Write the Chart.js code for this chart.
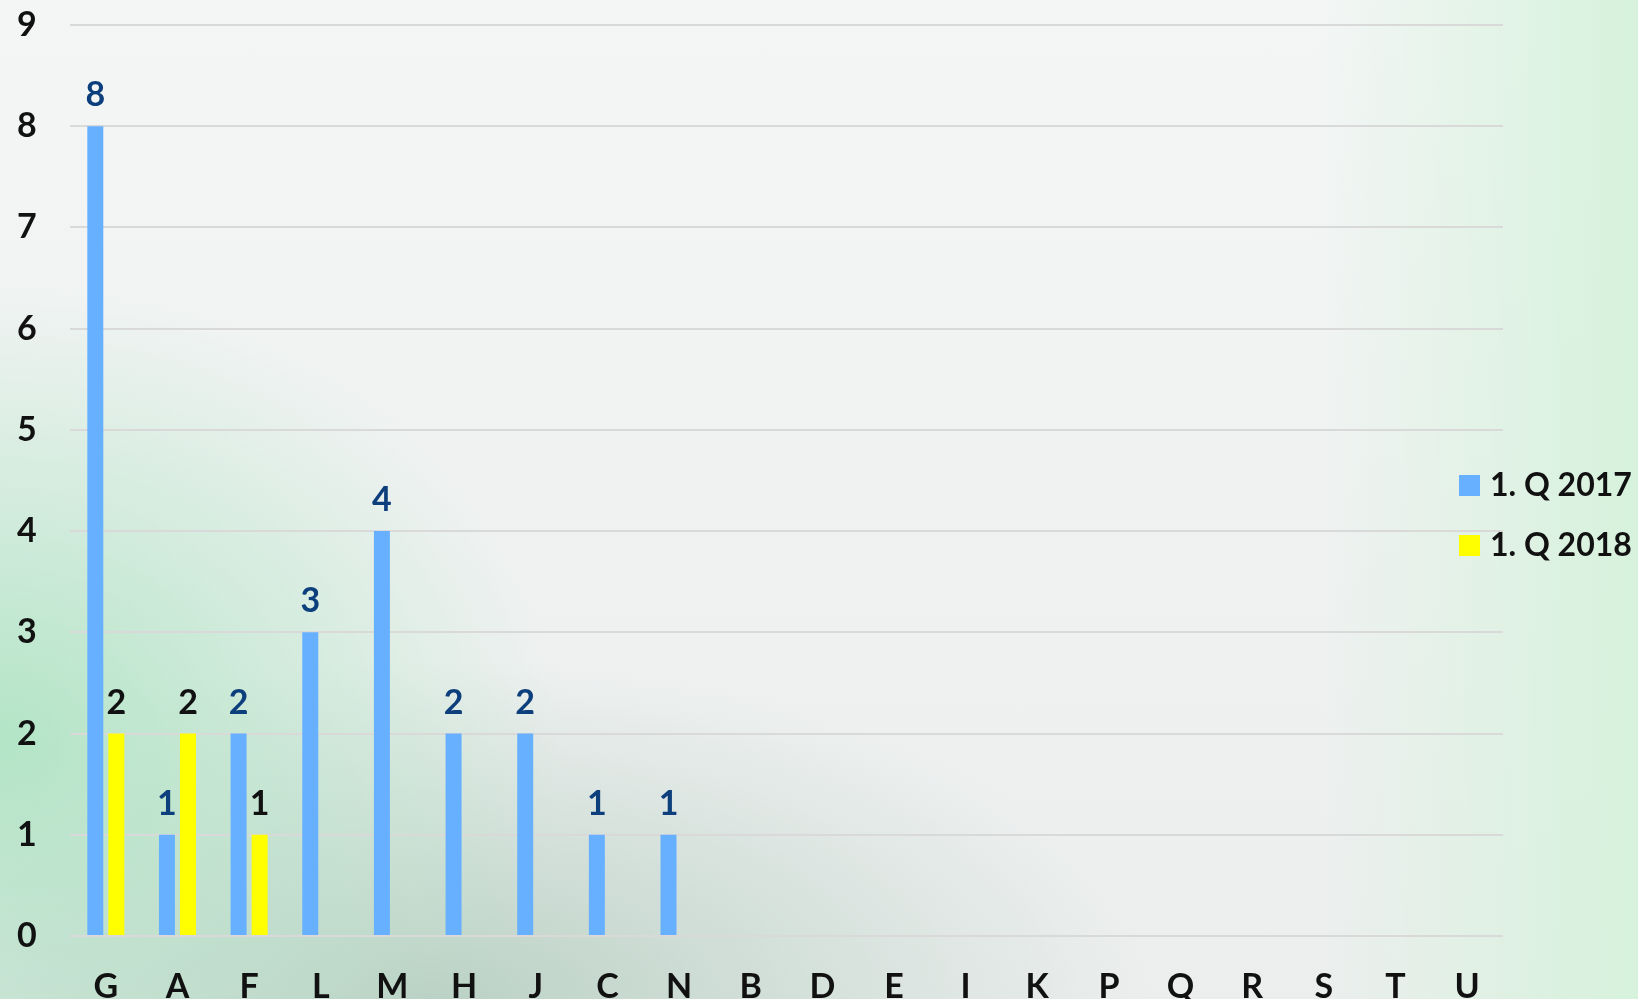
<!DOCTYPE html>
<html>
<head>
<meta charset="utf-8">
<script src="https://cdn.jsdelivr.net/npm/chart.js@4.4.0/dist/chart.umd.min.js"></script>
<style>
  html, body { margin: 0; padding: 0; width: 1638px; height: 999px; overflow: hidden; }
  body {
    background:
      radial-gradient(ellipse 560px 460px at 0px 740px, rgba(176,228,196,0.95), rgba(176,228,196,0) 100%),
      radial-gradient(ellipse 720px 340px at 430px 999px, rgba(184,208,195,0.95), rgba(184,208,195,0) 100%),
      linear-gradient(to right, rgba(220,242,224,0) 80%, rgba(214,242,220,1) 100%),
      linear-gradient(to bottom, #f4f6f6 0%, #eceeee 100%);
  }
  #wrap { position: absolute; left: 0; top: 0; }
</style>
</head>
<body>
<div id="wrap"><canvas id="chart" width="1638" height="999"></canvas></div>
<script>
// categories + values
const categories = ["G","A","F","L","M","H","J","C","N","B","D","E","I","K","P","Q","R","S","T","U"];
const q2017 = [8, 1, 2, 3, 4, 2, 2, 1, 1, 0, 0, 0, 0, 0, 0, 0, 0, 0, 0, 0];
const q2018 = [2, 2, 1, 0, 0, 0, 0, 0, 0, 0, 0, 0, 0, 0, 0, 0, 0, 0, 0, 0];
const yTicks = [0, 1, 2, 3, 4, 5, 6, 7, 8, 9];

const FONT = "Lato, 'Open Sans', sans-serif";
const FSIZE = 34;

// value labels above bars
const valueLabels = {
  id: "valueLabels",
  afterDatasetsDraw(chart) {
    const ctx = chart.ctx;
    ctx.save();
    ctx.font = "bold " + FSIZE + "px " + FONT;
    ctx.textAlign = "center";
    ctx.textBaseline = "alphabetic";
    chart.data.datasets.forEach((ds, i) => {
      const meta = chart.getDatasetMeta(i);
      ctx.fillStyle = ds.labelColor;
      meta.data.forEach((bar, j) => {
        const v = ds.data[j];
        if (!v) return;
        ctx.fillText(v, bar.x, bar.y - 20);
      });
    });
    ctx.restore();
  }
};

// legend on the right, overlapping the plot edge like the original
const sideLegend = {
  id: "sideLegend",
  afterDraw(chart) {
    const ctx = chart.ctx;
    const rows = [485, 545];
    ctx.save();
    ctx.font = "bold 32px " + FONT;
    ctx.textBaseline = "middle";
    ctx.textAlign = "left";
    chart.data.datasets.forEach((ds, i) => {
      const y = rows[i];
      ctx.fillStyle = ds.backgroundColor;
      ctx.fillRect(1459, y - 10, 21, 21);
      ctx.fillStyle = "#111111";
      ctx.fillText(ds.label, 1490, y + 1);
    });
    ctx.restore();
  }
};

const ctx = document.getElementById("chart").getContext("2d");

const chart = new Chart(ctx, {
  type: "bar",
  data: {
    labels: categories,
    datasets: [
      {
        label: "1. Q 2017",
        data: q2017,
        backgroundColor: "#66b0ff",
        labelColor: "#0d3f7c",
        categoryPercentage: 0.587,
        barPercentage: 0.76
      },
      {
        label: "1. Q 2018",
        data: q2018,
        backgroundColor: "#ffff00",
        labelColor: "#111111",
        categoryPercentage: 0.587,
        barPercentage: 0.76
      }
    ]
  },
  options: {
    responsive: false,
    animation: false,
    layout: { padding: { top: 25, right: 135, left: 17, bottom: 0 } },
    plugins: {
      legend: { display: false },
      tooltip: { enabled: false }
    },
    scales: {
      x: {
        grid: { display: false },
        border: { display: false },
        ticks: {
          color: "#111111",
          font: { family: FONT, size: FSIZE, weight: "bold", lineHeight: 1.0 },
          padding: 26,
          maxRotation: 0,
          autoSkip: false
        },
        afterFit(scale) { scale.height = 63; }
      },
      y: {
        min: 0,
        max: 9,
        afterBuildTicks(scale) { scale.ticks = yTicks.map(v => ({ value: v })); },
        grid: { color: "#d9d9d9", lineWidth: 2, drawTicks: false },
        border: { display: false },
        ticks: {
          color: "#111111",
          font: { family: FONT, size: FSIZE, weight: "bold", lineHeight: 1.0 },
          crossAlign: "far",
          padding: 0
        },
        afterFit(scale) { scale.width = 53; }
      }
    }
  },
  plugins: [valueLabels, sideLegend]
});
</script>
</body>
</html>
